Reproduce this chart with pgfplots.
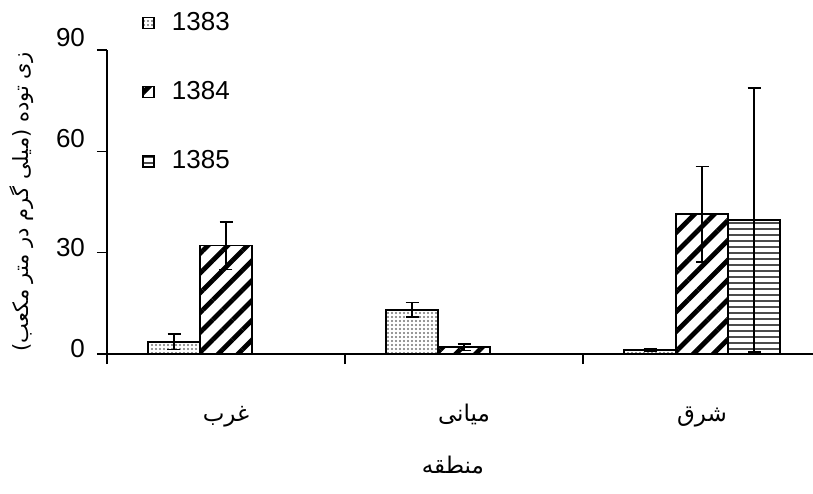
\documentclass[border=0pt]{standalone}
\usepackage{pgfplots}
\pgfplotsset{compat=1.18}
\usepackage{fontspec}
\setmainfont{Liberation Sans}
\newfontfamily\arabicfont[Script=Arabic]{DejaVu Sans}
\TeXXeTstate=1
\usetikzlibrary{patterns.meta}

% biomass by region and year: value and error
\pgfplotstableread{
x  y     e
0  3.6   2.3
1  13.1  2.2
2  1.2   0.3
}\yearA
\pgfplotstableread{
x  y     e
0  32.1  7.0
1  2.0   1.0
2  41.4  14.2
}\yearB
\pgfplotstableread{
x  y     e
0  0     0
1  0     0
2  39.7  39.1
}\yearC

\begin{document}
\begin{tikzpicture}
\path[use as bounding box] (-53.5pt,-69.5pt) rectangle (353pt,177pt);
\begin{axis}[
  at={(0pt,0pt)}, anchor=south west,
  scale only axis, width=353pt, height=152pt,
  xmin=-0.5, xmax=2.4664, ymin=0, ymax=90,
  axis lines*=left,
  axis line style={line width=0.7pt},
  tick align=outside,
  major tick length=5pt,
  tick style={line width=0.7pt, black},
  ytick={0,30},
  yticklabel style={yshift=2.75pt, xshift=-2.5pt},
  extra y ticks={60,90},
  extra y tick style={tick label style={yshift=3.5pt}},
  xtick={-0.4995,0.5,1.5},
  xticklabels={},
  extra x ticks={0,1,2},
  extra x tick labels={{\arabicfont\beginR غرب\endR},{\arabicfont\beginR میانی\endR},{\arabicfont\beginR شرق\endR}},
  extra x tick style={major tick length=0pt,
    tick label style={anchor=base, yshift=-33.5pt, font=\fontsize{11.5}{13}\selectfont}},
  /pgf/number format/assume math mode=true,
  tick label style={font=\fontsize{13}{15}\selectfont},
  ylabel={\arabicfont\beginR زی توده (میلی گرم در متر مکعب)\endR},
  ylabel style={at={(rel axis cs:0,0.5)}, anchor=center, yshift=42.5pt,
    font=\fontsize{10.5}{12}\selectfont},
  xlabel={\arabicfont\beginR منطقه\endR},
  xlabel style={at={(rel axis cs:0.49,0)}, anchor=center, yshift=-55.5pt,
    font=\fontsize{11.5}{13}\selectfont},
  ybar=0pt, bar width=26pt,
  every axis plot/.append style={draw=black, line width=0.75pt},
  error bars/error bar style={line width=0.7pt, black},
  error bars/error mark options={rotate=90, mark size=3.25pt, line width=0.7pt, black},
  legend image code/.code={\draw[#1] (0pt,-2.75pt) rectangle (5.5pt,2.75pt);},
  legend style={at={(rel axis cs:0,1)}, anchor=north west,
    xshift=17.5pt, yshift=21pt, draw=none, fill=none, inner sep=0pt,
    row sep=20pt, font=\fontsize{13}{15}\selectfont,
    /tikz/every odd column/.append style={column sep=6.5pt}},
  legend cell align=left,
]
\addplot[pattern={Dots[distance=2pt, radius=0.6pt]}, pattern color=black!55,
  error bars/.cd, y dir=both, y explicit]
  table[x=x, y=y, y error=e] {\yearA};
\addplot[pattern={Lines[angle=45, distance=7pt, line width=2.4pt]}, pattern color=black,
  error bars/.cd, y dir=both, y explicit]
  table[x=x, y=y, y error=e] {\yearB};
\addplot[pattern={Lines[angle=0, distance=3pt, line width=0.6pt]}, pattern color=black!70,
  error bars/.cd, y dir=both, y explicit]
  table[x=x, y=y, y error=e] {\yearC};
\legend{1383,1384,1385}
\end{axis}
\end{tikzpicture}
\end{document}
